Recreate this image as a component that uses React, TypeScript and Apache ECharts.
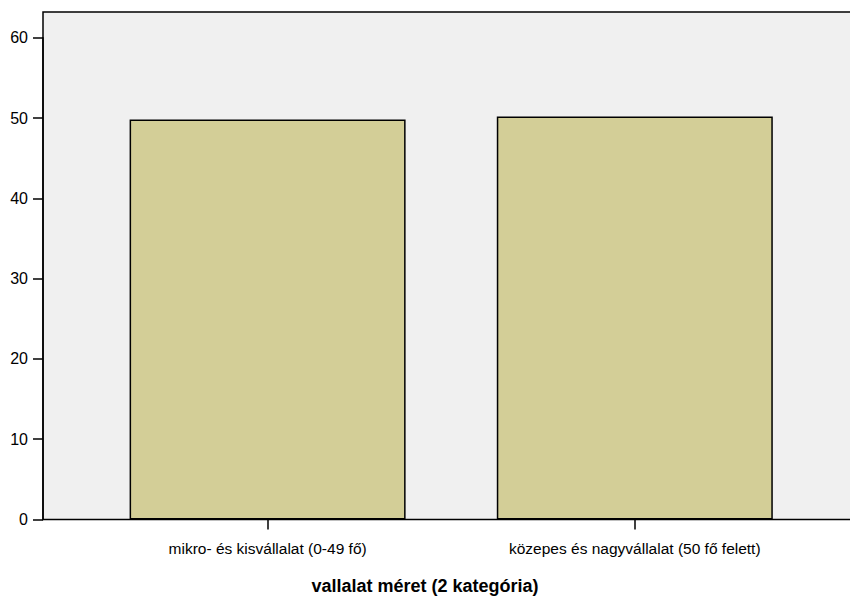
import React, { useEffect, useRef } from "react";
import * as echarts from "echarts";

const categories = ["mikro- és kisvállalat (0-49 fő)", "közepes és nagyvállalat (50 fő felett)"];
const values = [49.8, 50.2];
const yTicks = { min: 0, max: 60, interval: 10 };
const xTitle = "vallalat méret (2 kategória)";

export default function App() {
  const ref = useRef<HTMLDivElement>(null);
  useEffect(() => {
    const chart = echarts.init(ref.current!, null, { renderer: "svg" });
    const font = "'Liberation Sans', Arial, sans-serif";
    chart.setOption({
      animation: false,
      backgroundColor: "#ffffff",
      title: {
        text: xTitle,
        left: "center",
        top: 572,
        textStyle: { fontSize: 18, fontWeight: "bold", color: "#000", fontFamily: font },
      },
      graphic: [
        {
          type: "rect",
          z: -10,
          shape: { x: 43, y: 12, width: 810, height: 507.5 },
          style: { fill: "#f0f0f0", stroke: "#000", lineWidth: 1.5 },
          silent: true,
        },
      ],
      grid: { left: 84, right: 31.6, top: 37.7, bottom: 77.5, containLabel: false },
      xAxis: {
        type: "category",
        data: categories,
        axisLine: { show: false },
        axisTick: { show: true, alignWithLabel: true, length: 10, lineStyle: { color: "#000", width: 1.5 } },
        axisLabel: { margin: 21, fontSize: 15.5, color: "#000", fontFamily: font },
        splitLine: { show: false },
      },
      yAxis: {
        type: "value",
        min: yTicks.min,
        max: yTicks.max,
        interval: yTicks.interval,
        offset: 41,
        axisLine: { show: true, lineStyle: { color: "#000", width: 1.5 } },
        axisTick: { show: true, length: 10, lineStyle: { color: "#000", width: 1.5 } },
        axisLabel: { margin: 15, fontSize: 16, color: "#000", fontFamily: font },
        splitLine: { show: false },
      },
      series: [
        {
          type: "bar",
          data: values,
          barWidth: 276,
          itemStyle: { color: "#d3ce97", borderColor: "#000", borderWidth: 1.5 },
        },
      ],
    });
    return () => chart.dispose();
  }, []);
  return <div ref={ref} style={{ width: 850, height: 597, position: "absolute", left: 0, top: 0 }} />;
}
